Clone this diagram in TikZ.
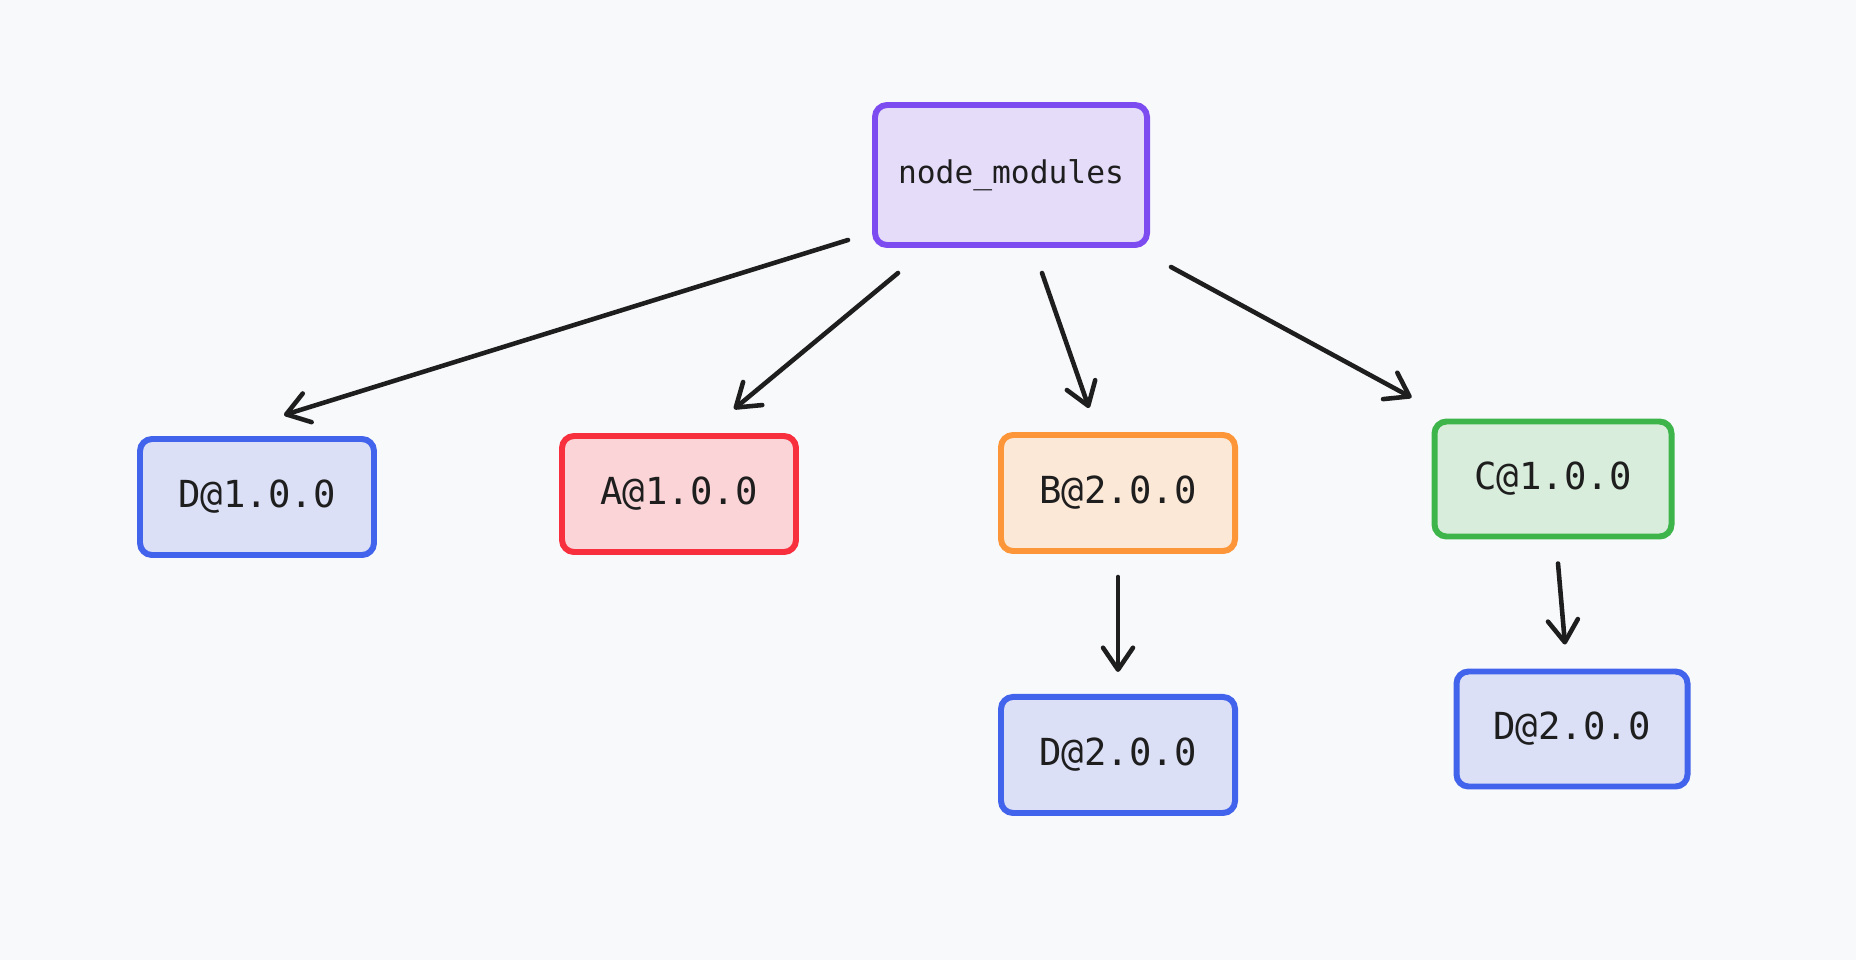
\documentclass[tikz,border=0pt]{standalone}
\usepackage{fontspec}
\setmonofont{DejaVu Sans Mono}
\usepackage{tikz}
\usetikzlibrary{arrows.meta, positioning}
\definecolor{bgc}{HTML}{F8F9FB}
\definecolor{inkc}{HTML}{1E1E1E}
\definecolor{purpc}{HTML}{7D4CF0}
\definecolor{purpf}{HTML}{E5DCFA}
\definecolor{bluec}{HTML}{4263EB}
\definecolor{bluef}{HTML}{DBE0F7}
\definecolor{redc}{HTML}{F82F3D}
\definecolor{redf}{HTML}{FAD4D7}
\definecolor{orangec}{HTML}{FD9638}
\definecolor{orangef}{HTML}{FCE8D7}
\definecolor{greenc}{HTML}{3DB54B}
\definecolor{greenf}{HTML}{D8EDDB}

\begin{document}
\begin{tikzpicture}[font=\ttfamily,>={Straight Barb[length=0.22cm,width=0.3cm,round]},line width=1.3pt,line cap=round]

	\tikzset{pkg/.style={rectangle, rounded corners=0.12cm, line width=1.7pt,
			minimum width=2.34cm, minimum height=1.16cm,
			font=\ttfamily\fontsize{10.6}{12}\selectfont, text=inkc}}
	\tikzset{pkg d/.style={pkg, draw=bluec, fill=bluef}}

	\fill[bgc] (0,0) rectangle (18.56,9.6);
	\useasboundingbox (0,0) rectangle (18.56,9.6);

	\node[pkg, draw=purpc, fill=purpf, minimum width=2.72cm, minimum height=1.4cm,
		font=\ttfamily\fontsize{8.9}{10}\selectfont] (NM) at (10.11,7.85) {node\_modules};

	\node[pkg d] (D1) at (2.57,4.63) {D@1.0.0};
	\node[pkg, draw=redc, fill=redf] (A1) at (6.79,4.66) {A@1.0.0};
	\node[pkg, draw=orangec, fill=orangef] (B2) at (11.18,4.67) {B@2.0.0};
	\node[pkg, draw=greenc, fill=greenf, minimum width=2.37cm, minimum height=1.15cm] (C1) at (15.53,4.81) {C@1.0.0};

	\node[pkg d, below=1.4cm of B2] (DB) {D@2.0.0};
	\node[pkg d, minimum width=2.31cm, minimum height=1.15cm] (DC) at (15.72,2.31) {D@2.0.0};

	\draw[draw=inkc]
	([shift={(-0.24,0.08)}]NM.south west) edge[->] ([shift={(0.27,0.21)}]D1.north)
	([shift={(0.26,-0.25)}]NM.south west) edge[->] ([shift={(0.55,0.24)}]A1.north)
	([shift={(0.31,-0.25)}]NM.south) edge[->] ([shift={(-0.29,0.24)}]B2.north)
	([shift={(0.21,-0.19)}]NM.south east) edge[->] ([shift={(-0.20,0.21)}]C1.north west)
	([shift={(0,-0.23)}]B2.south) edge[->] ([shift={(0,0.22)}]DB.north)
	([shift={(0.05,-0.24)}]C1.south) edge[->] ([shift={(-0.07,0.24)}]DC.north);
\end{tikzpicture}
\end{document}
